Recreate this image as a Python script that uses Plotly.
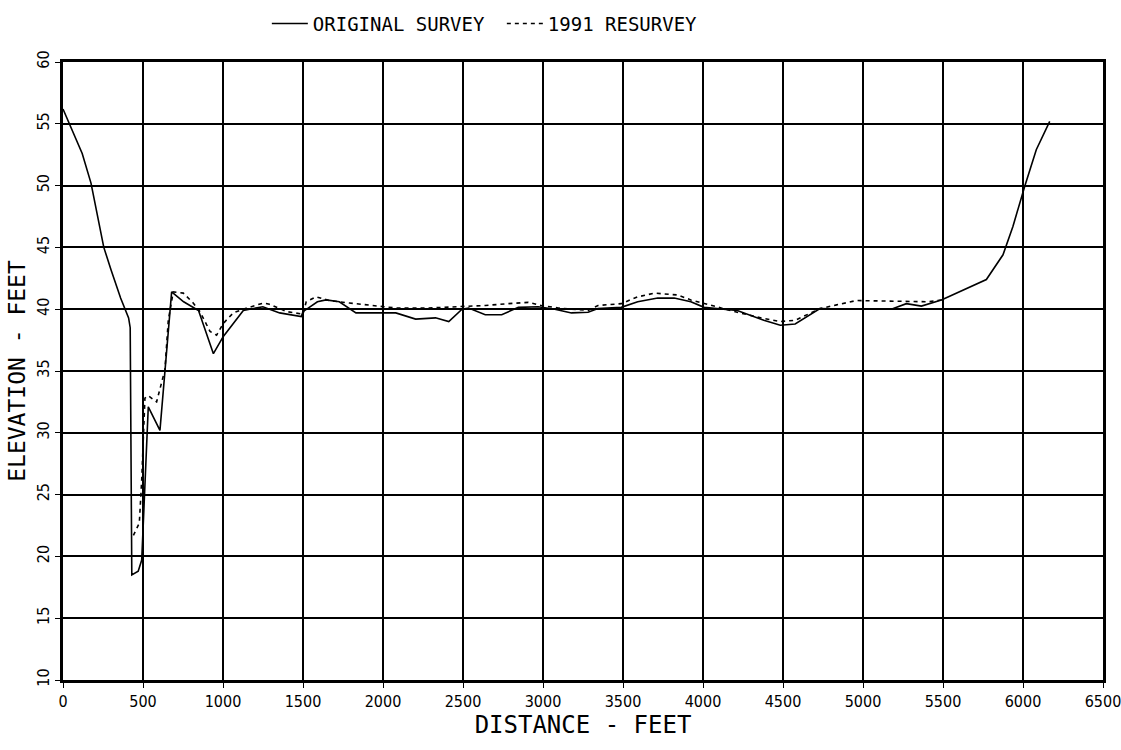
import plotly.graph_objects as go

# Original survey (solid)
orig_x = [0, 120, 175, 255, 300, 360, 410, 420, 430, 470, 492, 533, 606, 679, 754, 847, 940, 1002,
          1127, 1249, 1354, 1489, 1500, 1590, 1644, 1727, 1831, 1996, 2080, 2204, 2328, 2411, 2494,
          2535, 2639, 2742, 2846, 2970, 3074, 3178, 3282, 3344, 3489, 3592, 3717, 3820, 3924, 4007,
          4214, 4380, 4483, 4576, 4669, 4731, 4959, 5177, 5271, 5365, 5490, 5771, 5875, 5937, 6010,
          6083, 6167]
orig_y = [56.2, 52.6, 50.2, 45.0, 43.2, 40.9, 39.3, 38.5, 18.5, 18.8, 19.7, 32.1, 30.2, 41.4, 40.6,
          39.9, 36.4, 37.8, 39.9, 40.2, 39.7, 39.4, 39.8, 40.6, 40.75, 40.6, 39.7, 39.7, 39.7, 39.2,
          39.3, 39.0, 40.0, 40.1, 39.55, 39.55, 40.15, 40.2, 40.0, 39.7, 39.75, 40.05, 40.15, 40.6,
          40.9, 40.9, 40.6, 40.15, 39.9, 39.1, 38.7, 38.8, 39.55, 40.05, 40.0, 40.0, 40.45, 40.25,
          40.75, 42.4, 44.4, 46.7, 49.9, 52.9, 55.2]

# 1991 resurvey (dashed)
res_x = [440, 477, 492, 502, 512, 533, 585, 637, 658, 689, 752, 814, 856, 919, 960, 1002, 1064, 1127,
         1252, 1290, 1400, 1500, 1520, 1582, 1665, 1790, 1935, 2080, 2287, 2494, 2639, 2784, 2908,
         2990, 3095, 3282, 3344, 3489, 3592, 3696, 3841, 3924, 4049, 4214, 4380, 4483, 4576, 4628,
         4731, 4835, 4959, 5410, 5490]
res_y = [21.7, 22.7, 26.2, 29.7, 32.8, 33.0, 32.5, 35.1, 39.1, 41.4, 41.3, 40.5, 39.8, 38.2, 37.9,
         38.85, 39.7, 40.0, 40.5, 40.4, 39.8, 39.6, 40.6, 41.0, 40.7, 40.5, 40.3, 40.1, 40.1, 40.2,
         40.3, 40.45, 40.55, 40.3, 40.1, 39.9, 40.3, 40.45, 41.0, 41.3, 41.15, 40.75, 40.3, 39.75,
         39.25, 39.0, 39.1, 39.4, 40.05, 40.35, 40.7, 40.6, 40.75]

x_ticks = list(range(0, 6501, 500))
y_ticks = list(range(10, 61, 5))

FONT = "Liberation Sans Narrow, DejaVu Sans Condensed, DejaVu Sans, sans-serif"
MONO = "DejaVu Sans Mono, Liberation Mono, monospace"

fig = go.Figure()
fig.add_trace(go.Scatter(x=orig_x, y=orig_y, mode="lines", name="ORIGINAL SURVEY",
                         line=dict(color="black", width=1.6)))
fig.add_trace(go.Scatter(x=res_x, y=res_y, mode="lines", name="1991 RESURVEY",
                         line=dict(color="black", width=1.6, dash="4px,4px")))

axis_common = dict(showgrid=True, gridcolor="black", gridwidth=1.5, showline=True,
                   linecolor="black", linewidth=3, mirror=True, ticks="outside",
                   ticklen=5, tickcolor="black", zeroline=False,
                   ticklabeloverflow="allow",
                   tickfont=dict(family=FONT, size=16, color="black"))

fig.update_layout(
    width=1121, height=750,
    margin=dict(l=63, r=18, t=62, b=70, autoexpand=False),
    paper_bgcolor="white", plot_bgcolor="white",
    showlegend=True,
    legend=dict(orientation="h", x=0.196, xanchor="left", y=1.062, yanchor="middle",
                font=dict(family=MONO, size=19, color="black"),
                itemwidth=36, entrywidth=184, bgcolor="rgba(0,0,0,0)"),
    xaxis=dict(range=[0, 6500], tickvals=x_ticks, ticktext=[str(v) for v in x_ticks],
               title=dict(text="DISTANCE - FEET", font=dict(family=MONO, size=24, color="black"),
                          standoff=4),
               **axis_common),
    yaxis=dict(range=[10, 60], tickvals=y_ticks, ticktext=[str(v) for v in y_ticks],
               tickangle=-90,
               title=dict(text="ELEVATION - FEET", font=dict(family=MONO, size=23, color="black"),
                          standoff=2),
               **axis_common),
)

fig.write_html("out.html")
